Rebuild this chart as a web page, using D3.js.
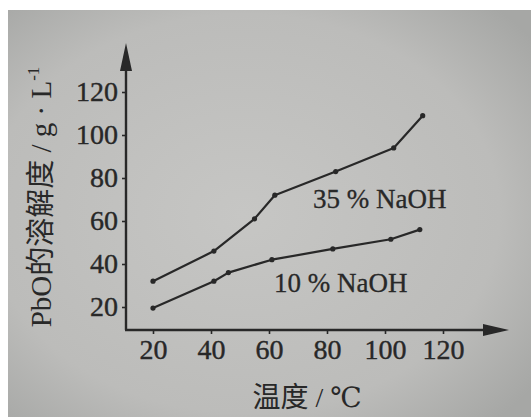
<!DOCTYPE html>
<html>
<head>
<meta charset="utf-8">
<script src="https://cdn.jsdelivr.net/npm/d3@7/dist/d3.min.js"></script>
<style>
  html, body { margin: 0; padding: 0; background: #ffffff; }
  svg { display: block; }
</style>
</head>
<body>
<svg id="chart" width="531" height="417"></svg>
<script>
// PbO solubility vs temperature in two NaOH concentrations
const tempTicks = [20, 40, 60, 80, 100, 120];
const solTicks = [20, 40, 60, 80, 100, 120];

const temp35 = [20, 41, 55, 62, 83, 103, 113];
const sol35  = [32, 46, 61, 72, 83, 94, 109];

const temp10 = [20, 41, 46, 61, 82, 102, 112];
const sol10  = [19.5, 32, 36, 42, 47, 51.5, 56];

const seriesLabels = ["35 % NaOH", "10 % NaOH"];

const svg = d3.select("#chart");
const ink = "#282828";
const serif = "'Liberation Serif', 'DejaVu Serif', serif";
const cjk = "'Noto Sans CJK SC', sans-serif";

// paper background
const defs = svg.append("defs");
const grad = defs.append("radialGradient").attr("id", "paper")
  .attr("cx", "45%").attr("cy", "50%").attr("r", "70%");
grad.append("stop").attr("offset", "0%").attr("stop-color", "#c6c6c4");
grad.append("stop").attr("offset", "70%").attr("stop-color", "#bcbcba");
grad.append("stop").attr("offset", "100%").attr("stop-color", "#a6a7a5");
svg.append("rect").attr("x", 8).attr("y", 10).attr("width", 523).attr("height", 407)
  .attr("fill", "url(#paper)");

const x = d3.scaleLinear().domain([20, 120]).range([153, 443]);
const y = d3.scaleLinear().domain([20, 120]).range([307, 92]);

const x0 = 126, y0 = 330;

// axes lines with arrowheads
svg.append("line").attr("x1", x0).attr("y1", y0).attr("x2", x0).attr("y2", 60)
  .attr("stroke", ink).attr("stroke-width", 2.4);
svg.append("line").attr("x1", x0 - 1).attr("y1", y0).attr("x2", 492).attr("y2", y0)
  .attr("stroke", ink).attr("stroke-width", 2.4);
svg.append("path").attr("d", `M${x0},43 L${x0 - 6},71 L${x0 + 6},71 Z`).attr("fill", ink);
svg.append("path").attr("d", `M509,${y0} L483,${y0 - 6} L483,${y0 + 6} Z`).attr("fill", ink);

// y axis ticks and labels
const yAxis = d3.axisLeft(y).tickValues(solTicks).tickSize(4).tickPadding(4);
const gy = svg.append("g").attr("transform", `translate(${x0},0)`).call(yAxis);
gy.select(".domain").remove();
gy.selectAll(".tick line").attr("stroke", ink).attr("stroke-width", 1.6);
gy.selectAll(".tick text").attr("fill", ink).style("font-family", serif)
  .style("font-size", "28px").attr("stroke", ink).attr("stroke-width", 0.4);

// x axis ticks and labels
const xAxis = d3.axisBottom(x).tickValues(tempTicks).tickSize(4).tickPadding(5);
const gx = svg.append("g").attr("transform", `translate(0,${y0})`).call(xAxis);
gx.select(".domain").remove();
gx.selectAll(".tick line").attr("stroke", ink).attr("stroke-width", 1.6);
gx.selectAll(".tick text").attr("fill", ink).style("font-family", serif)
  .style("font-size", "28px").attr("stroke", ink).attr("stroke-width", 0.4);

// series lines with point markers
const line = d3.line().x(d => x(d[0])).y(d => y(d[1]));
const series = [
  d3.zip(temp35, sol35),
  d3.zip(temp10, sol10)
];
series.forEach(pts => {
  svg.append("path").datum(pts).attr("d", line)
    .attr("fill", "none").attr("stroke", ink).attr("stroke-width", 2.2)
    .attr("stroke-linejoin", "round");
  svg.selectAll(null).data(pts).enter().append("circle")
    .attr("cx", d => x(d[0])).attr("cy", d => y(d[1])).attr("r", 2.6)
    .attr("fill", ink);
});

// series labels
svg.append("text").attr("x", 313).attr("y", 208).text(seriesLabels[0])
  .attr("fill", ink).style("font-family", serif).style("font-size", "27px")
  .attr("stroke", ink).attr("stroke-width", 0.3);
svg.append("text").attr("x", 274).attr("y", 292).text(seriesLabels[1])
  .attr("fill", ink).style("font-family", serif).style("font-size", "27px")
  .attr("stroke", ink).attr("stroke-width", 0.3);

// x axis title
const xt = svg.append("text").attr("x", 307).attr("y", 407).attr("text-anchor", "middle")
  .attr("fill", ink).style("font-size", "28px");
xt.append("tspan").style("font-family", cjk).text("温度");
xt.append("tspan").style("font-family", serif).text(" / ℃");

// y axis title
const yt = svg.append("text").attr("transform", "translate(51,197) rotate(-90)")
  .attr("text-anchor", "middle").attr("fill", ink).style("font-size", "29px");
yt.append("tspan").style("font-family", serif).text("PbO");
yt.append("tspan").style("font-family", cjk).text("的溶解度");
yt.append("tspan").style("font-family", serif).text(" / g · L");
yt.append("tspan").style("font-family", serif).style("font-size", "17px")
  .attr("dy", -12).text("-1");
</script>
</body>
</html>
